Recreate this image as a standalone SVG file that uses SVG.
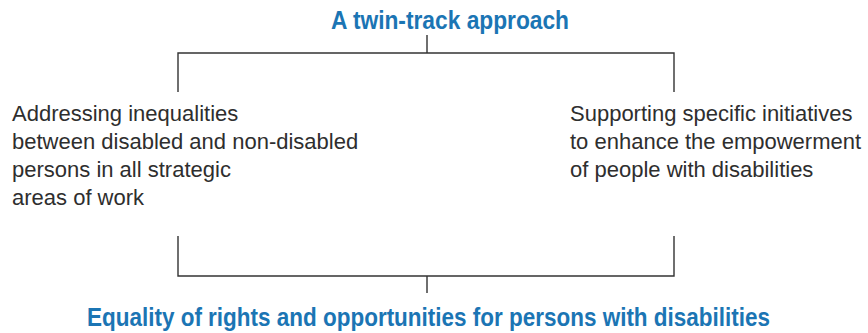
<svg xmlns="http://www.w3.org/2000/svg" width="868" height="333" viewBox="0 0 868 333">
<style>
.title{font-family:"Liberation Sans",Arial,sans-serif;font-weight:bold;font-size:25px;fill:#1b75b4}
.body{font-family:"Liberation Sans",Arial,sans-serif;font-size:22px;fill:#2e2e2e}
.conn{stroke:#333;stroke-width:1.4;fill:none}
</style>
<rect width="868" height="333" fill="#fff"/>
<g id="top-title"><text class="title" x="331" y="29" textLength="238" lengthAdjust="spacingAndGlyphs">A twin-track approach</text></g>
<g id="left-node">
<text class="body" x="12" y="121">Addressing inequalities</text>
<text class="body" x="12" y="149">between disabled and non-disabled</text>
<text class="body" x="12" y="177">persons in all strategic</text>
<text class="body" x="12" y="205">areas of work</text>
</g>
<g id="right-node">
<text class="body" x="570" y="121">Supporting specific initiatives</text>
<text class="body" x="570" y="149">to enhance the empowerment</text>
<text class="body" x="570" y="177">of people with disabilities</text>
</g>
<g id="bottom-title"><text class="title" x="87" y="326" textLength="683" lengthAdjust="spacingAndGlyphs">Equality of rights and opportunities for persons with disabilities</text></g>
<g id="connectors">
<path class="conn" d="M427 35V53M178 92V53H674V92"/>
<path class="conn" d="M178 236V276H674V236M427 276V293"/>
</g>
</svg>
